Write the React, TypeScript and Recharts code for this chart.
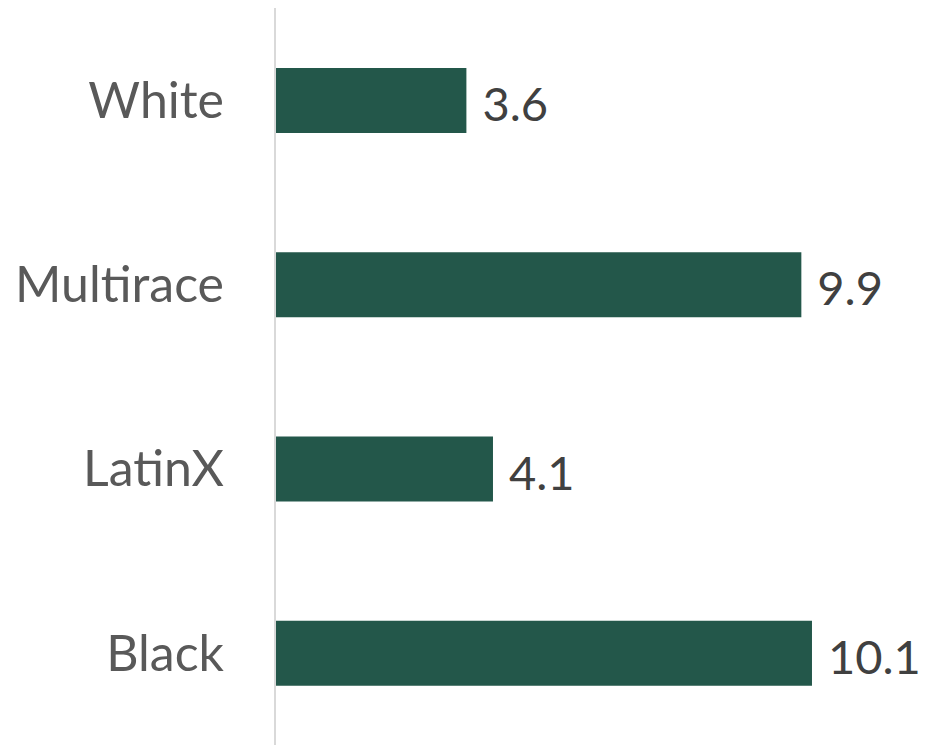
import React from 'react';
import { BarChart, Bar, XAxis, YAxis, LabelList } from 'recharts';

const groups = ['White', 'Multirace', 'LatinX', 'Black'];
const rates = [3.6, 9.9, 4.1, 10.1];

const chartData = groups.map((name, i) => ({ name, rate: rates[i] }));

const FONT = 'Lato, "Open Sans", sans-serif';

export default function App() {
  return (
    <div style={{ width: 936, height: 739, fontFamily: FONT }}>
      <BarChart
        width={936}
        height={739}
        data={chartData}
        layout="vertical"
        margin={{ top: 0, right: 31, left: 0, bottom: 2 }}
        barSize={65}
      >
        <XAxis type="number" domain={[0, 12]} hide />
        <YAxis
          type="category"
          dataKey="name"
          width={267}
          axisLine={{ stroke: '#d9d9d9', strokeWidth: 2 }}
          tickLine={false}
          tickSize={0}
          tickMargin={51}
          tick={{ fill: '#595959', fontSize: 50, fontFamily: FONT }}
        />
        <Bar dataKey="rate" fill="#23574a" isAnimationActive={false}>
          <LabelList
            dataKey="rate"
            position="right"
            offset={16}
            dy={4}
            fill="#404040"
            fontSize={47}
            fontFamily={FONT}
          />
        </Bar>
      </BarChart>
    </div>
  );
}
